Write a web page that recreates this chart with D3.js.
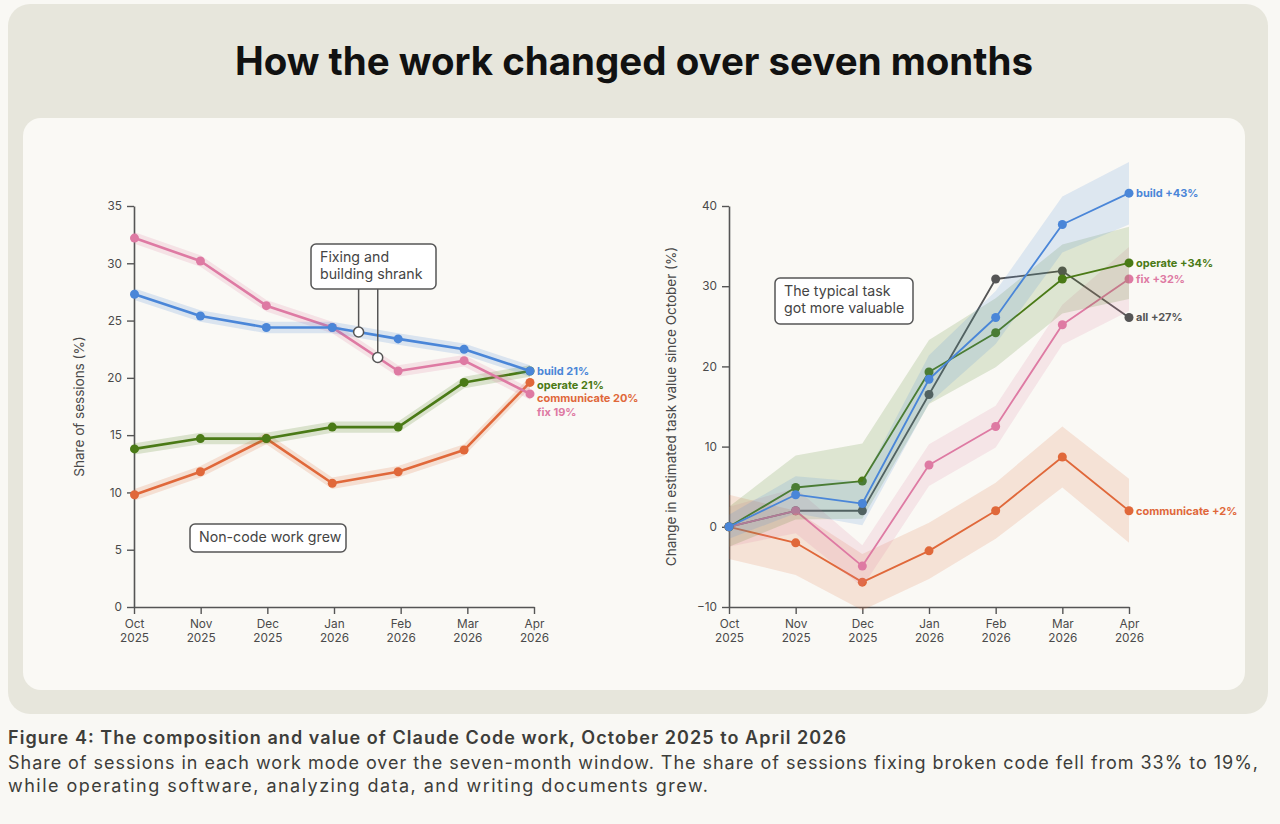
<!DOCTYPE html>
<html><head><meta charset="utf-8">
<script src="https://cdn.jsdelivr.net/npm/d3@7"></script>
<style>
html,body{margin:0;padding:0;background:#f9f8f4;}
svg{display:block;}
</style></head>
<body>
<svg id="c" width="1280" height="824"></svg>
<script>
// ---------- DATA ----------
const months = ["Oct 2025","Nov 2025","Dec 2025","Jan 2026","Feb 2026","Mar 2026","Apr 2026"];
const shareTicks = [0,5,10,15,20,25,30,35];
const valueTicks = [-10,0,10,20,30,40];

// Left: share of sessions (%)
const shareBuild = [27.3,25.4,24.4,24.4,23.4,22.5,20.6];
const shareFix = [32.2,30.2,26.3,24.4,20.6,21.5,18.6];
const shareOperate = [13.8,14.7,14.7,15.7,15.7,19.6,20.6];
const shareCommunicate = [9.8,11.8,14.7,10.8,11.8,13.7,19.6];
const shareBand = [0.5,0.5,0.5,0.5,0.5,0.5,0.5];
const shareLabels = ["build 21%","operate 21%","communicate 20%","fix 19%"];

// Right: change in estimated task value since October (%)
const valueBuild = [0,4.0,2.9,18.4,26.1,37.7,41.6];
const valueOperate = [0,4.9,5.7,19.3,24.2,30.9,32.9];
const valueFix = [0,2.0,-4.9,7.7,12.5,25.2,30.9];
const valueCommunicate = [0,-2.0,-6.9,-3.0,2.0,8.7,2.0];
const valueAll = [0,2.0,2.0,16.5,30.9,31.9,26.1];
const bandBuild = [1.5,2.3,2.7,3.0,3.3,3.5,3.9];
const bandOperate = [2.5,4.0,4.7,4.0,4.3,4.3,4.5];
const bandFix = [2.5,2.8,2.6,2.6,2.6,2.5,4.0];
const bandCommunicate = [4.0,4.0,3.5,3.5,3.5,3.8,4.0];
const valueLabels = ["build +43%","operate +34%","fix +32%","all +27%","communicate +2%"];

const colors = {build:"#4a86d8", fix:"#de7aa3", operate:"#4a7a16", communicate:"#e0683a", all:"#555555"};

// ---------- LAYOUT ----------
const svg = d3.select("#c");
const FONT = "Inter, 'Noto Sans', sans-serif";
svg.append("rect").attr("x",0).attr("y",0).attr("width",1280).attr("height",824).attr("fill","#f9f8f4");
svg.append("rect").attr("x",8).attr("y",4).attr("width",1260).attr("height",710).attr("rx",22).attr("fill","#e7e6dc");
svg.append("rect").attr("x",23).attr("y",118).attr("width",1222).attr("height",572).attr("rx",18).attr("fill","#faf9f5");

svg.append("text").attr("x",235).attr("y",75)
  .attr("font-family","Inter, sans-serif").attr("font-weight",700).attr("font-size",39)
  .attr("textLength",798).attr("lengthAdjust","spacingAndGlyphs")
  .attr("fill","#111").text("How the work changed over seven months");

const cap = svg.append("g").attr("font-family",FONT).attr("fill","#3d3d3a").attr("font-size",18);
cap.append("text").attr("x",8).attr("y",744).attr("font-weight",600)
  .attr("textLength",838).attr("lengthAdjust","spacing")
  .text("Figure 4: The composition and value of Claude Code work, October 2025 to April 2026");
cap.append("text").attr("x",8).attr("y",769)
  .attr("textLength",1250).attr("lengthAdjust","spacing")
  .text("Share of sessions in each work mode over the seven-month window. The share of sessions fixing broken code fell from 33% to 19%,");
cap.append("text").attr("x",8).attr("y",792)
  .attr("textLength",700).attr("lengthAdjust","spacing")
  .text("while operating software, analyzing data, and writing documents grew.");

// ---------- helpers ----------
function drawAxes(g, x, y, ticks, yLabel, labelX){
  const yAx = g.append("g").attr("transform",`translate(${x.range()[0]},0)`)
    .call(d3.axisLeft(y).tickValues(ticks).tickSize(7).tickSizeOuter(0).tickPadding(5));
  const xAx = g.append("g").attr("transform",`translate(0,${y.range()[0]})`)
    .call(d3.axisBottom(x).tickSize(7).tickSizeOuter(0).tickPadding(6));
  [yAx,xAx].forEach(a=>{
    a.select(".domain").attr("stroke","#555").attr("stroke-width",1.6);
    a.selectAll(".tick line").attr("stroke","#555").attr("stroke-width",1.4);
    a.selectAll("text").attr("font-family",FONT).attr("font-size",11.8).attr("fill","#4a4a4a");
  });
  xAx.selectAll(".tick text").each(function(d){
    const p = d.split(" "); const t = d3.select(this); t.text(null);
    t.append("tspan").attr("x",0).attr("dy","0.71em").text(p[0]);
    t.append("tspan").attr("x",0).attr("dy","1.12em").text(p[1]);
  });
  const my = (y.range()[0]+y.range()[1])/2;
  g.append("text").attr("transform",`translate(${labelX},${my}) rotate(-90)`).attr("text-anchor","middle")
    .attr("font-family",FONT).attr("font-size",13.5).attr("fill","#4a4a4a").text(yLabel);
}
function drawSeries(g, x, y, vals, band, color, opts){
  if(band){
    const area = d3.area().x((d,i)=>x(months[i])).y0((d,i)=>y(d-band[i])).y1((d,i)=>y(d+band[i]));
    g.append("path").datum(vals).attr("d",area).attr("fill",color).attr("opacity",opts.bandOp);
  }
  const line = d3.line().x((d,i)=>x(months[i])).y(d=>y(d));
  g.append("path").datum(vals).attr("d",line).attr("fill","none").attr("stroke",color)
    .attr("stroke-width",opts.lw).attr("stroke-linejoin","round");
  g.selectAll(null).data(vals).enter().append("circle")
    .attr("cx",(d,i)=>x(months[i])).attr("cy",d=>y(d)).attr("r",opts.r).attr("fill",color);
}
function endLabels(g, x, y, items, gap){
  const pos = items.map(it=>({...it, py:y(it.v)})).sort((a,b)=>a.py-b.py);
  for(let i=1;i<pos.length;i++) if(pos[i].py-pos[i-1].py<gap) pos[i].py=pos[i-1].py+gap;
  pos.forEach(p=>g.append("text").attr("x",x(months[6])+7).attr("y",p.py).attr("dy","0.35em")
    .attr("font-family",FONT).attr("font-weight",700).attr("font-size",11).attr("fill",p.c).text(p.t));
}
function note(g, x0, y0, w, h, lines){
  g.append("rect").attr("x",x0).attr("y",y0).attr("width",w).attr("height",h).attr("rx",5)
    .attr("fill","#fff").attr("stroke","#555").attr("stroke-width",1.5);
  lines.forEach((l,i)=>g.append("text").attr("x",x0+9).attr("y",y0+18+i*17)
    .attr("font-family",FONT).attr("font-size",14.2).attr("fill","#444").text(l));
}

// ---------- LEFT CHART ----------
const L = svg.append("g");
const xL = d3.scalePoint().domain(months).range([134,534]);      // axis ticks
const xLp = d3.scalePoint().domain(months).range([134.5,530]);   // plotted points
const yL = d3.scaleLinear().domain([0,35]).range([607,206]);
drawAxes(L, xL, yL, shareTicks, "Share of sessions (%)", 84);
const optL = {lw:2.6, r:4.5, bandOp:0.18};
drawSeries(L,xLp,yL,shareCommunicate,shareBand,colors.communicate,optL);
drawSeries(L,xLp,yL,shareOperate,shareBand,colors.operate,optL);
drawSeries(L,xLp,yL,shareFix,shareBand,colors.fix,optL);
drawSeries(L,xLp,yL,shareBuild,shareBand,colors.build,optL);
endLabels(L,xLp,yL,[
  {v:shareBuild[6],t:shareLabels[0],c:colors.build},
  {v:shareOperate[6]-0.01,t:shareLabels[1],c:colors.operate},
  {v:shareCommunicate[6],t:shareLabels[2],c:colors.communicate},
  {v:shareFix[6],t:shareLabels[3],c:colors.fix}],13.8);

// annotation: Fixing and building shrank
function interp(arr, f){ const i=Math.floor(f), t=f-i; return arr[i]+(arr[i+1]-arr[i])*t; }
function xAt(x, f){ const i=Math.floor(f), t=f-i; return x(months[i])+(x(months[i+1])-x(months[i]))*t; }
const a1 = 3.40, a2 = 3.69;
[[a1,shareBuild],[a2,shareFix]].forEach(([f,arr])=>{
  const px = xAt(xLp,f), py = yL(interp(arr,f));
  L.append("line").attr("x1",px).attr("x2",px).attr("y1",289).attr("y2",py-5).attr("stroke","#555").attr("stroke-width",1.5);
  L.append("circle").attr("cx",px).attr("cy",py).attr("r",5).attr("fill","#fff").attr("stroke","#555").attr("stroke-width",1.5);
});
note(L, 311, 244, 125, 45, ["Fixing and","building shrank"]);
note(L, 190, 524, 156, 28, ["Non-code work grew"]);

// ---------- RIGHT CHART ----------
const R = svg.append("g");
const xR = d3.scalePoint().domain(months).range([729,1129]);
const yR = d3.scaleLinear().domain([-10,40]).range([607,206]);
drawAxes(R, xR, yR, valueTicks, "Change in estimated task value since October (%)", 676);
const optR = {lw:1.8, r:4.5, bandOp:0.16};
drawSeries(R,xR,yR,valueAll,null,colors.all,optR);
drawSeries(R,xR,yR,valueCommunicate,bandCommunicate,colors.communicate,optR);
drawSeries(R,xR,yR,valueFix,bandFix,colors.fix,optR);
drawSeries(R,xR,yR,valueOperate,bandOperate,colors.operate,optR);
drawSeries(R,xR,yR,valueBuild,bandBuild,colors.build,optR);
endLabels(R,xR,yR,[
  {v:valueBuild[6],t:valueLabels[0],c:colors.build},
  {v:valueOperate[6],t:valueLabels[1],c:colors.operate},
  {v:valueFix[6],t:valueLabels[2],c:colors.fix},
  {v:valueAll[6],t:valueLabels[3],c:colors.all},
  {v:valueCommunicate[6],t:valueLabels[4],c:colors.communicate}],14);
note(R, 775, 278, 138, 46, ["The typical task","got more valuable"]);
</script>
</body></html>
